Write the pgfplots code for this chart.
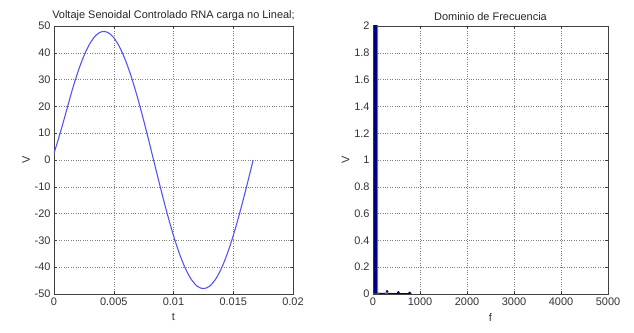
\documentclass[border=0pt]{standalone}
\usepackage{pgfplots}
\pgfplotsset{compat=1.18}
\usepackage{fontspec}
\setmainfont{Liberation Sans}
\definecolor{sinblue}{RGB}{85,85,245}
\definecolor{navyb}{RGB}{0,0,120}
\definecolor{edgeb}{RGB}{110,110,255}
\begin{document}
\begin{tikzpicture}
\pgfplotsset{
  mystyle/.style={
    scale only axis,
    height=268bp,
    axis line style={black!75, line width=0.6pt},
    tick style={black!75, line width=0.5pt},
    tick align=inside,
    xtick pos=both, ytick pos=both,
    major tick length=3bp,
    grid=major,
    major grid style={black!50, dotted, line width=0.5pt},
    tick label style={font=\fontsize{11}{13}\selectfont, text=black!80},
    label style={font=\fontsize{11}{13}\selectfont, text=black!80},
    title style={font=\fontsize{11}{13}\selectfont, text=black!85, yshift=-4bp},
    /pgf/number format/assume math mode=true,
    scaled x ticks=false, scaled y ticks=false,
    xlabel style={yshift=-1bp},
    ylabel style={yshift=-2bp},
  }
}
\path[use as bounding box] (-54bp,-39bp) rectangle (580bp,294bp);
\begin{axis}[mystyle, at={(0,0)}, anchor=south west,
  width=239bp,
  xmin=0, xmax=0.02, ymin=-50, ymax=50,
  xtick={0,0.005,0.01,0.015,0.02},
  xticklabels={0,0.005,0.01,0.015,0.02},
  ytick={-50,-40,...,50},
  xlabel={t}, ylabel={V},
  title={Voltaje Senoidal Controlado RNA carga no Lineal;},
]
\addplot[sinblue, line width=1.1pt, smooth] coordinates {
(0,2.5) (0.0005,9.8) (0.001,17.67) (0.0015,25.72) (0.002,32.86) (0.0025,38.83)
(0.003,43.43) (0.0035,46.49) (0.004,47.90) (0.0045,47.62) (0.005,45.65)
(0.0055,42.06) (0.006,36.98) (0.0065,30.59) (0.007,23.13) (0.0075,14.83)
(0.008,6.02) (0.0085,-3.01) (0.009,-11.94) (0.0095,-20.44) (0.01,-28.21)
(0.0105,-34.99) (0.011,-40.53) (0.0115,-44.63) (0.012,-47.15) (0.0125,-48)
(0.013,-47.15) (0.0135,-44.63) (0.014,-40.53) (0.0145,-34.99) (0.015,-28.21)
(0.0155,-20.44) (0.016,-11.94) (0.0165,-3.01) (0.01667,0)
};
\end{axis}
\begin{axis}[mystyle, at={(319bp,0)}, anchor=south west,
  width=235bp,
  xmin=0, xmax=5000, ymin=0, ymax=2,
  xtick={0,1000,...,5000},
  ytick={0,0.2,...,2.01},
  yticklabel style={/pgf/number format/fixed, /pgf/number format/precision=1},
  xticklabel style={/pgf/number format/fixed, /pgf/number format/1000 sep={}},
  xlabel={f}, ylabel={V},
  title={Dominio de Frecuencia},
]
\addplot[draw=edgeb, fill=navyb, line width=0.8pt] coordinates {
(0,0) (0,1.5) (30,30) (60,48) (90,30) (100,0.01) (100,0)
} -- cycle;
\addplot[navyb, line width=1pt] coordinates {
(100,0.006) (180,0.005) (300,0.006) (420,0.003) (540,0.004) (660,0.002) (780,0.003) (820,0)
};
\addplot[navyb, only marks, mark=*, mark size=1.1pt] coordinates {
(300,0.02) (540,0.012) (780,0.008)
};
\end{axis}
\end{tikzpicture}
\end{document}
